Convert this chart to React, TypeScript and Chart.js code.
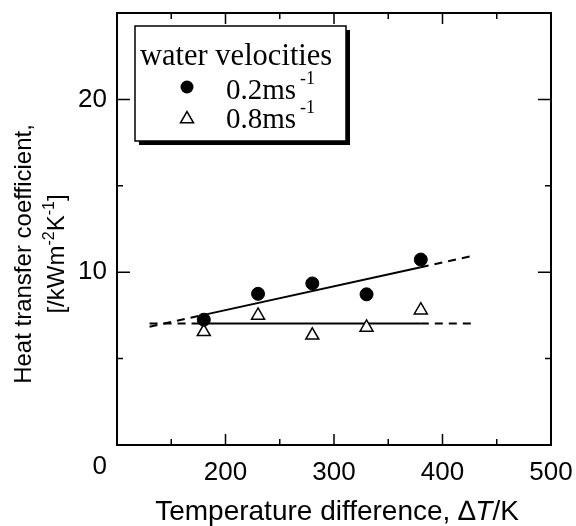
import React, { useEffect, useRef } from "react";
import { Chart, registerables } from "chart.js";
Chart.register(...registerables);

// measured points
const xPts = [180, 230, 280, 330, 380];
const yHigh = [7.25, 8.75, 9.35, 8.72, 10.73]; // 0.2 m/s
const yLow = [6.55, 7.5, 6.35, 6.8, 7.8]; // 0.8 m/s
// fitted lines (dashed - solid - dashed)
const fitX = [130, 180, 380, 430];
const fitHighY = [6.84, 7.53, 10.29, 10.98];
const fitLowY = [7.03, 7.03, 7.03, 7.03];
// axes
const xMin = 100, xMax = 500, xStep = 50;
const yMin = 0, yMax = 25, yStep = 5;
const xTickLabels = [200, 300, 400, 500];
const yTickLabels = [10, 20];
const originLabel = "0";
// texts
const legendTitle = "water velocities";
const legendLabels = ["0.2ms", "0.8ms"];
const legendSup = "-1";
const xTitleParts = ["Temperature difference, ", "\u2206", "T", "/K"];
const yTitleLine1 = "Heat transfer coefficient,";

const SANS = "'Liberation Sans', Arial, sans-serif";
const SERIF = "'Liberation Serif', 'Times New Roman', serif";

type Part = { t: string; font: string; dy?: number };

function drawParts(ctx: CanvasRenderingContext2D, parts: Part[], cx: number, cy: number) {
  let total = 0;
  for (const p of parts) { ctx.font = p.font; total += ctx.measureText(p.t).width; }
  let x = cx - total / 2;
  ctx.textAlign = "left";
  for (const p of parts) {
    ctx.font = p.font;
    ctx.fillText(p.t, x, cy + (p.dy || 0));
    x += ctx.measureText(p.t).width;
  }
}

function drawTriangle(ctx: CanvasRenderingContext2D, x: number, y: number, r: number) {
  ctx.beginPath();
  let a = 0;
  ctx.moveTo(x + Math.sin(a) * r, y - Math.cos(a) * r);
  a += (2 * Math.PI) / 3;
  ctx.lineTo(x + Math.sin(a) * r, y - Math.cos(a) * r);
  a += (2 * Math.PI) / 3;
  ctx.lineTo(x + Math.sin(a) * r, y - Math.cos(a) * r);
  ctx.closePath();
  ctx.fillStyle = "#fff";
  ctx.fill();
  ctx.lineWidth = 1.5;
  ctx.strokeStyle = "#000";
  ctx.stroke();
}

const decorPlugin = {
  id: "decor",
  afterDraw(chart: any) {
    const ctx: CanvasRenderingContext2D = chart.ctx;
    const a = chart.chartArea;
    const xs = chart.scales.x;
    const ys = chart.scales.y;
    ctx.save();
    ctx.strokeStyle = "#000";
    ctx.fillStyle = "#000";
    // frame
    ctx.lineWidth = 2;
    ctx.strokeRect(a.left, a.top, a.right - a.left, a.bottom - a.top);
    // inward ticks
    ctx.lineWidth = 1.5;
    ctx.beginPath();
    for (let v = xMin + xStep; v < xMax; v += xStep) {
      const px = xs.getPixelForValue(v);
      const len = v % 100 === 0 ? 11 : 6;
      ctx.moveTo(px, a.bottom); ctx.lineTo(px, a.bottom - len);
      ctx.moveTo(px, a.top); ctx.lineTo(px, a.top + len);
    }
    for (let v = yMin + yStep; v < yMax; v += yStep) {
      const py = ys.getPixelForValue(v);
      const len = v % 10 === 0 ? 13 : 6;
      ctx.moveTo(a.left, py); ctx.lineTo(a.left + len, py);
      ctx.moveTo(a.right, py); ctx.lineTo(a.right - len, py);
    }
    ctx.stroke();

    // origin label
    ctx.font = `26px ${SANS}`;
    ctx.textAlign = "right";
    ctx.textBaseline = "middle";
    ctx.fillText(originLabel, a.left - 10, a.bottom + 22);

    // x title
    ctx.textBaseline = "alphabetic";
    drawParts(ctx, [
      { t: xTitleParts[0], font: `28px ${SANS}` },
      { t: xTitleParts[1], font: `28px ${SANS}` },
      { t: xTitleParts[2], font: `italic 28px ${SANS}` },
      { t: xTitleParts[3], font: `28px ${SANS}` },
    ], (a.left + a.right) / 2 + 3, a.bottom + 75);

    // y title
    const cy = (a.top + a.bottom) / 2 + 25;
    ctx.save();
    ctx.translate(31, cy);
    ctx.rotate(-Math.PI / 2);
    drawParts(ctx, [{ t: yTitleLine1, font: `24px ${SANS}` }], 0, 0);
    ctx.restore();
    ctx.save();
    ctx.translate(64, cy);
    ctx.rotate(-Math.PI / 2);
    drawParts(ctx, [
      { t: "[/kWm", font: `24px ${SANS}` },
      { t: "-2", font: `16px ${SANS}`, dy: -10 },
      { t: "K", font: `24px ${SANS}` },
      { t: "-1", font: `16px ${SANS}`, dy: -10 },
      { t: "]", font: `24px ${SANS}` },
    ], 0, 0);
    ctx.restore();

    // legend box
    const bx = a.left + 18, by = a.top + 13, bw = 211, bh = 115;
    ctx.fillStyle = "#000";
    ctx.fillRect(bx + 4, by + 4, bw, bh);
    ctx.fillStyle = "#fff";
    ctx.fillRect(bx, by, bw, bh);
    ctx.lineWidth = 1.5;
    ctx.strokeStyle = "#000";
    ctx.strokeRect(bx, by, bw, bh);
    ctx.fillStyle = "#000";
    ctx.textAlign = "left";
    ctx.textBaseline = "alphabetic";
    ctx.font = `30.5px ${SERIF}`;
    ctx.fillText(legendTitle, bx + 5, by + 39);
    // rows
    const rows = [by + 73, by + 102];
    const mk = [by + 61, by + 91];
    ctx.beginPath();
    ctx.arc(bx + 52, mk[0], 6.5, 0, Math.PI * 2);
    ctx.fill();
    drawTriangle(ctx, bx + 52, mk[1] + 2, 7.5);
    ctx.fillStyle = "#000";
    for (let i = 0; i < 2; i++) {
      ctx.font = `29px ${SERIF}`;
      ctx.fillText(legendLabels[i], bx + 91, rows[i]);
      const w = ctx.measureText(legendLabels[i]).width;
      ctx.font = `18px ${SERIF}`;
      ctx.fillText(legendSup, bx + 91 + w + 4, rows[i] - 15);
    }
    ctx.restore();
  },
};

export default function App() {
  const ref = useRef<HTMLCanvasElement>(null);
  useEffect(() => {
    if (!ref.current) return;
    const dash = [8, 6];
    const segDash = (ctx: any) => (ctx.p0DataIndex === 1 ? [] : dash);
    const chart = new Chart(ref.current, {
      type: "scatter",
      data: {
        datasets: [
          {
            type: "line",
            data: fitX.map((x, i) => ({ x, y: fitHighY[i] })),
            borderColor: "#000",
            borderWidth: 2,
            pointRadius: 0,
            fill: false,
            segment: { borderDash: segDash },
            order: 2,
          } as any,
          {
            type: "line",
            data: fitX.map((x, i) => ({ x, y: fitLowY[i] })),
            borderColor: "#000",
            borderWidth: 2,
            pointRadius: 0,
            fill: false,
            segment: { borderDash: segDash },
            order: 2,
          } as any,
          {
            data: xPts.map((x, i) => ({ x, y: yHigh[i] })),
            pointStyle: "circle",
            pointRadius: 6.5,
            backgroundColor: "#000",
            borderColor: "#000",
            borderWidth: 1,
            order: 1,
          },
          {
            data: xPts.map((x, i) => ({ x, y: yLow[i] })),
            pointStyle: "triangle",
            pointRadius: 7.5,
            backgroundColor: "#fff",
            borderColor: "#000",
            borderWidth: 1.5,
            order: 1,
          },
        ],
      },
      options: {
        animation: false,
        responsive: true,
        maintainAspectRatio: false,
        layout: { padding: { top: 13, right: 25, left: 0, bottom: 0 } },
        plugins: { legend: { display: false }, tooltip: { enabled: false } },
        scales: {
          x: {
            type: "linear",
            min: xMin,
            max: xMax,
            grid: { display: false, drawTicks: false },
            border: { display: false },
            ticks: {
              stepSize: xStep,
              autoSkip: false,
              maxRotation: 0,
              padding: 12,
              color: "#000",
              font: { family: SANS, size: 26 },
              callback: (v: any) => (xTickLabels.includes(Number(v)) ? String(v) : ""),
            },
            afterFit: (s: any) => { s.height = 81; s.paddingLeft = 0; s.paddingRight = 0; },
          },
          y: {
            type: "linear",
            min: yMin,
            max: yMax,
            grid: { display: false, drawTicks: false },
            border: { display: false },
            ticks: {
              stepSize: yStep,
              autoSkip: false,
              padding: 10,
              color: "#000",
              font: { family: SANS, size: 26 },
              callback: (v: any) => (yTickLabels.includes(Number(v)) ? String(v) : ""),
            },
            afterFit: (s: any) => { s.width = 117; s.paddingTop = 0; s.paddingBottom = 0; },
          },
        },
      },
      plugins: [decorPlugin],
    });
    return () => chart.destroy();
  }, []);
  return (
    <div style={{ position: "fixed", left: 0, top: 0, width: 576, height: 526, background: "#fff" }}>
      <canvas ref={ref} />
    </div>
  );
}
